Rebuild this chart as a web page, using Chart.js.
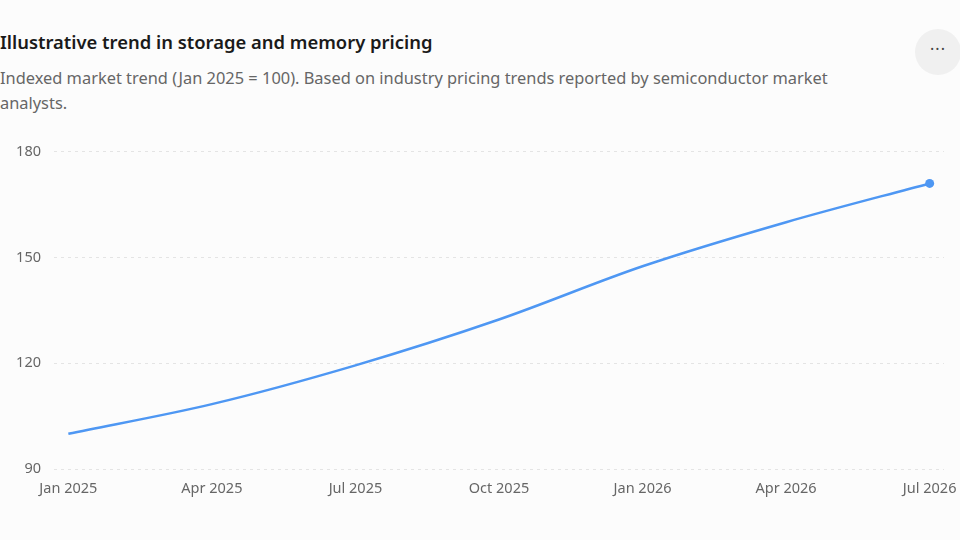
<!DOCTYPE html>
<html>
<head>
<meta charset="utf-8">
<script src="https://cdn.jsdelivr.net/npm/chart.js@4.4.1/dist/chart.umd.min.js"></script>
<style>
  html, body { margin: 0; padding: 0; }
  body {
    width: 960px; height: 540px; overflow: hidden; position: relative;
    background: #fcfcfc; font-family: "Noto Sans", "Open Sans", sans-serif;
  }
  #title {
    position: absolute; left: 0; top: 29px;
    font-size: 18.4px; font-weight: 600; color: #1a1a1a;
  }
  #subtitle {
    position: absolute; left: 0; top: 65px; width: 870px;
    font-size: 16.4px; line-height: 25px; color: #666;
  }
  #more {
    position: absolute; left: 915px; top: 29px; width: 46px; height: 46px;
    border-radius: 50%; background: #f0f0f0; color: #444;
    text-align: center; line-height: 40px; font-size: 16px; letter-spacing: 1px;
  }
  #wrap { position: absolute; left: 0; top: 130px; width: 960px; height: 400px; }
</style>
</head>
<body>
<div id="title">Illustrative trend in storage and memory pricing</div>
<div id="subtitle">Indexed market trend (Jan 2025 = 100). Based on industry pricing trends reported by semiconductor market analysts.</div>
<div id="more">&middot;&middot;&middot;</div>
<div id="wrap"><canvas id="trendChart"></canvas></div>

<script>
// quarterly points, index Jan 2025 = 100
const periods = ["Jan 2025", "Apr 2025", "Jul 2025", "Oct 2025", "Jan 2026", "Apr 2026", "Jul 2026"];
const indexValues = [100, 108.4, 119.4, 132.4, 147.5, 160, 171];
const yTicks = [90, 120, 150, 180];

const lineColor = '#4e97f3';

let trendChart = new Chart(document.getElementById('trendChart'), {
    type: 'line',
    data: {
        datasets: [{
            data: indexValues.map((v, i) => ({ x: i, y: v })),
            borderColor: lineColor,
            backgroundColor: lineColor,
            borderWidth: 2.5,
            cubicInterpolationMode: 'monotone',
            pointRadius: (ctx) => ctx.dataIndex === indexValues.length - 1 ? 4.5 : 0,
            pointHoverRadius: 5,
            pointBorderWidth: 0,
            fill: false
        }]
    },
    options: {
        responsive: true,
        maintainAspectRatio: false,
        animation: false,
        layout: {
            padding: { top: 21, right: 16, bottom: 31, left: 0 }
        },
        plugins: {
            legend: { display: false },
            tooltip: { enabled: false }
        },
        scales: {
            x: {
                type: 'linear',
                min: -0.1,
                max: periods.length - 1 + 0.1,
                afterBuildTicks: (scale) => {
                    scale.ticks = periods.map((p, i) => ({ value: i }));
                },
                afterFit: (scale) => { scale.height = 30; },
                grid: { display: false },
                border: { display: false },
                ticks: {
                    padding: 3,
                    maxRotation: 0,
                    autoSkip: false,
                    color: '#666',
                    font: { family: 'Noto Sans', size: 14.5 },
                    callback: (value) => periods[value]
                }
            },
            y: {
                min: 90,
                max: 180,
                afterBuildTicks: (scale) => {
                    scale.ticks = yTicks.map(v => ({ value: v }));
                },
                afterFit: (scale) => { scale.width = 54; },
                grid: {
                    color: '#e4e4e4',
                    lineWidth: 1,
                    drawTicks: false
                },
                border: { display: false, dash: [3, 4] },
                ticks: {
                    padding: 13,
                    color: '#666',
                    font: { family: 'Noto Sans', size: 14.5 }
                }
            }
        }
    }
});
</script>
</body>
</html>
